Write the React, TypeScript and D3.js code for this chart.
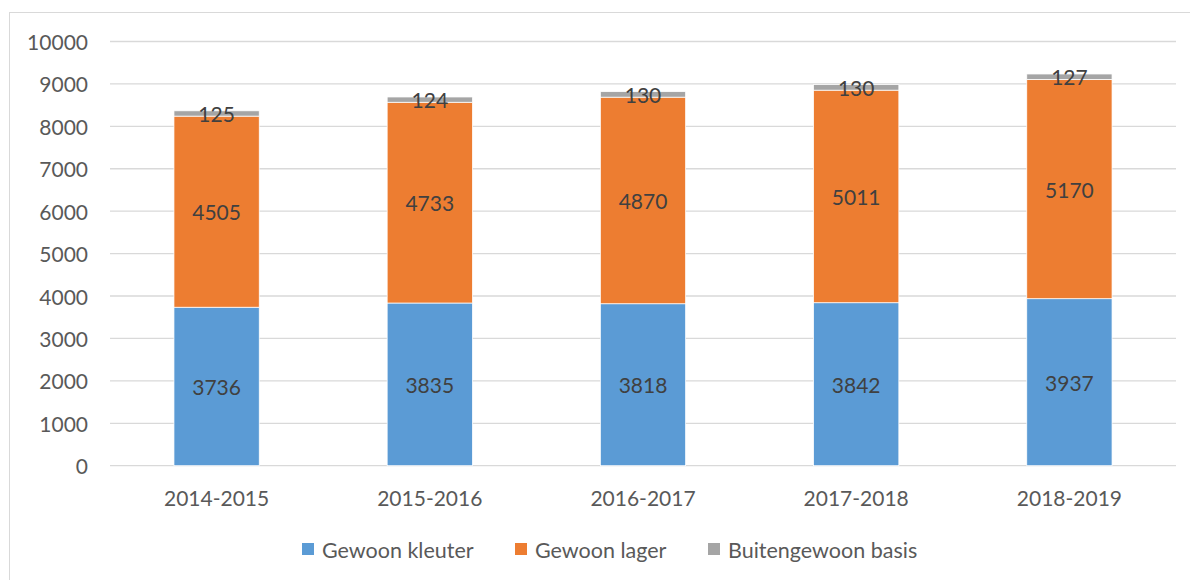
import React from "react";
import * as d3 from "d3";

const categories = ["2014-2015", "2015-2016", "2016-2017", "2017-2018", "2018-2019"];
const kleuter = [3736, 3835, 3818, 3842, 3937];
const lager = [4505, 4733, 4870, 5011, 5170];
const buiten = [125, 124, 130, 130, 127];
const seriesNames = ["Gewoon kleuter", "Gewoon lager", "Buitengewoon basis"];
const yTicks = [0, 1000, 2000, 3000, 4000, 5000, 6000, 7000, 8000, 9000, 10000];

const colors = ["#5B9BD5", "#ED7D31", "#A5A5A5"];
const FONT = "Lato, 'Open Sans', sans-serif";

export default function App() {
  const W = 1190, H = 580;
  const left = 110, right = 1176, top = 41.5, bottom = 465.7;
  const x = d3.scaleBand<string>().domain(categories).range([left, right]).paddingInner(0.6).paddingOuter(0.3);
  const y = d3.scaleLinear().domain([0, 10000]).range([bottom, top]);

  const rows = categories.map((c, i) => ({ cat: c, k: kleuter[i], l: lager[i], b: buiten[i] }));
  const stack = d3.stack<any>().keys(["k", "l", "b"])(rows);

  const legendItems = [
    { name: seriesNames[0], x: 302 },
    { name: seriesNames[1], x: 515 },
    { name: seriesNames[2], x: 708 },
  ];

  return (
    <svg width={W} height={H} style={{ position: "absolute", left: 0, top: 0, background: "#fff" }} fontFamily={FONT}>
      <rect x={9.5} y={12.5} width={1300} height={700} fill="#fff" stroke="#D9D9D9" strokeWidth={1} />
      {yTicks.map((t) => (
        <g key={t}>
          <line x1={left} x2={right} y1={y(t)} y2={y(t)} stroke="#D9D9D9" strokeWidth={1.3} />
          <text x={88} y={y(t)} textAnchor="end" dominantBaseline="central" fontSize={21} fill="#595959">
            {t}
          </text>
        </g>
      ))}
      {stack.map((s, si) => (
        <g key={si}>
          {s.map((d, i) => (
            <rect
              key={i}
              x={x(categories[i])!}
              y={y(d[1])}
              width={x.bandwidth()}
              height={y(d[0]) - y(d[1])}
              fill={colors[si]}
              stroke="#fff"
              strokeWidth={0.75}
            />
          ))}
        </g>
      ))}
      {stack.map((s, si) => (
        <g key={"l" + si}>
          {s.map((d, i) => (
            <text
              key={i}
              x={x(categories[i])! + x.bandwidth() / 2}
              y={(y(d[0]) + y(d[1])) / 2}
              textAnchor="middle"
              dominantBaseline="central"
              fontSize={21}
              fill="#404040"
            >
              {d[1] - d[0]}
            </text>
          ))}
        </g>
      ))}
      {categories.map((c) => (
        <text key={c} x={x(c)! + x.bandwidth() / 2} y={497} textAnchor="middle" dominantBaseline="central" fontSize={21} fill="#595959">
          {c}
        </text>
      ))}
      {legendItems.map((l, i) => (
        <g key={l.name}>
          <rect x={l.x} y={543} width={12} height={12} fill={colors[i]} />
          <text x={l.x + 20} y={549.5} dominantBaseline="central" fontSize={21.5} fill="#595959">
            {l.name}
          </text>
        </g>
      ))}
    </svg>
  );
}
